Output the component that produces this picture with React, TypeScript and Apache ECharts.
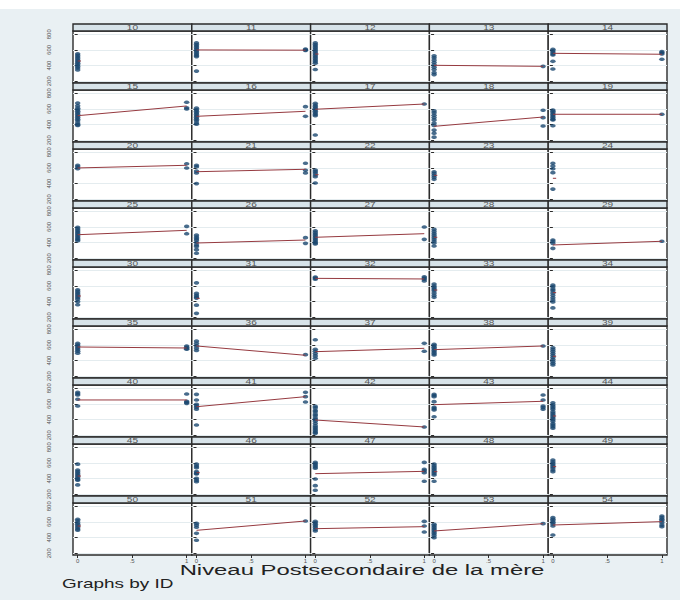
import React, { useEffect, useRef } from "react";
import * as echarts from "echarts";

// ---- Data (panel = ID) ----
const panelIds = [
  10, 11, 12, 13, 14,
  15, 16, 17, 18, 19,
  20, 21, 22, 23, 24,
  25, 26, 27, 28, 29,
  30, 31, 32, 33, 34,
  35, 36, 37, 38, 39,
  40, 41, 42, 43, 44,
  45, 46, 47, 48, 49,
  50, 51, 52, 53, 54,
];

// scores of children whose mother has no postsecondary education (x = 0)
const valuesAt0: number[][] = [
  [550, 530, 510, 490, 470, 450, 430, 410, 390, 370, 345],
  [690, 670, 650, 630, 610, 590, 570, 550, 530, 515, 330],
  [690, 670, 650, 630, 610, 590, 570, 550, 530, 510, 490, 470, 450, 430, 350],
  [525, 500, 470, 440, 410, 380, 350, 310, 285],
  [608, 590, 570, 550, 536, 455, 357],
  [675, 640, 610, 590, 570, 550, 530, 510, 490, 470, 450, 420, 400, 390],
  [610, 590, 570, 550, 530, 510, 490, 470, 450, 420, 405],
  [672, 650, 630, 610, 590, 570, 550, 530, 514, 267],
  [575, 550, 520, 490, 460, 420, 390, 330, 290, 240],
  [587, 570, 550, 530, 510, 490, 470, 459, 386],
  [634, 615, 591],
  [634, 615, 560, 535, 400],
  [574, 555, 535, 510, 488, 408],
  [552, 530, 505, 480, 455],
  [660, 625, 590, 540, 330],
  [596, 575, 555, 535, 515, 495, 475, 455, 440, 425],
  [495, 470, 450, 430, 400, 370, 350, 310, 265],
  [552, 530, 510, 490, 470, 450, 430, 410, 395, 382],
  [570, 545, 520, 495, 470, 445, 420, 395, 357],
  [433, 415, 391, 327],
  [550, 530, 510, 490, 470, 450, 430, 400, 360],
  [640, 505, 480, 460, 445, 355, 250],
  [715, 700, 685],
  [625, 600, 580, 560, 540, 510, 480, 455],
  [610, 590, 560, 540, 510, 480, 450, 420, 395, 320],
  [620, 600, 580, 560, 540, 520, 495],
  [650, 620, 590, 560, 530],
  [667, 545, 520, 490, 460, 430],
  [608, 590, 570, 550, 530, 510, 490, 472],
  [565, 540, 515, 490, 465, 440, 415, 390, 365, 344],
  [749, 730, 714, 660, 574],
  [723, 651, 596, 575, 555, 532, 331],
  [570, 550, 520, 500, 470, 450, 420, 400, 380, 350, 320, 300, 280, 260, 240, 225],
  [723, 708, 693, 629, 557, 540, 523, 437],
  [615, 590, 570, 550, 530, 500, 480, 460, 440, 420, 400, 380, 350, 330, 310, 290],
  [585, 510, 490, 470, 450, 430, 410, 390, 380, 320],
  [585, 560, 540, 490, 470, 460, 405, 380, 360],
  [608, 590, 570, 550, 532, 395, 310, 251],
  [587, 565, 545, 525, 505, 485, 465, 446, 366],
  [638, 615, 595, 575, 555, 535, 510, 489],
  [635, 615, 590, 570, 550, 530, 510, 495],
  [583, 560, 532, 455, 366],
  [608, 590, 570, 550, 530, 505, 485],
  [570, 550, 530, 510, 490, 470, 450, 425, 399],
  [655, 635, 615, 595, 575, 548, 433],
];

// scores of children whose mother has postsecondary education (x = 1)
const valuesAt1: number[][] = [
  [],
  [610, 600, 595],
  [],
  [391],
  [578, 565, 548, 481],
  [685, 616, 600],
  [629, 506],
  [663],
  [583, 489, 382],
  [532],
  [654, 600],
  [660, 570, 536],
  [],
  [],
  [],
  [608, 514],
  [463, 391],
  [600, 442],
  [],
  [417],
  [],
  [],
  [718, 700, 685, 663],
  [],
  [],
  [587, 570, 555, 545],
  [476],
  [621, 519],
  [587],
  [],
  [727, 634, 620, 608],
  [749, 693, 625],
  [306],
  [714, 651, 574, 555, 532],
  [],
  [],
  [],
  [608, 519, 500, 476, 366],
  [],
  [],
  [],
  [612],
  [608, 548, 472],
  [578],
  [676, 655, 635, 615, 590, 560, 540],
];

// linear fit values at x = 0 and x = 1 (null at 1 when no x = 1 observations)
const fitAt0: number[] = [
  459, 600, 548, 404, 557,
  514, 506, 596, 378, 532,
  600, 552, 514, 506, 468,
  501, 395, 468, 468, 370,
  472, 442, 697, 548, 515,
  574, 587, 514, 540, 455,
  651, 565, 395, 591, 446,
  433, 476, 463, 489, 553,
  548, 493, 514, 485, 561,
];
const fitAt1: (number | null)[] = [
  null, 597, null, 391, 545,
  638, 570, 663, 497, 532,
  634, 583, null, null, null,
  557, 433, 514, null, 417,
  null, null, 689, null, null,
  561, 468, 557, 587, null,
  651, 693, 306, 634, null,
  null, null, 493, null, null,
  null, 612, 540, 578, 604,
];

const xTickValues = [0, 0.5, 1];
const xTickLabels = ["0", ".5", "1"];
const yTickValues = [200, 400, 600, 800];
const xTitle = "Niveau Postsecondaire de la mère";
const noteText = "Graphs by ID";

// ---- Layout / style ----
const COLS = 5;
const LEFT = 73;
const COL_W = 118.8;
const TOP = 24;
const ROW_H = 59;
const HEAD_H = 7;
const BG = "#e9f0f3";
const STRIP = "#d7e3e9";
const BORDER = "#2b2b2b";
const MARKER = "#1a476f";
const FIT = "#963a40";
const STRETCH = 1.55;
const Y_MIN = 178;
const Y_MAX = 842;
const Y_LABEL_X = 49;

export default function App() {
  const ref = useRef<HTMLDivElement>(null);

  useEffect(() => {
    if (!ref.current) return;
    const chart = echarts.init(ref.current, undefined, { renderer: "svg" });
    const n = panelIds.length;
    const rows = Math.ceil(n / COLS);

    const grids: any[] = [];
    const xAxes: any[] = [];
    const yAxes: any[] = [];
    const series: any[] = [];
    const graphics: any[] = [
      { type: "rect", z: -10, shape: { x: 0, y: 9, width: 680, height: 591 }, style: { fill: BG } },
    ];

    panelIds.forEach((id, i) => {
      const r = Math.floor(i / COLS);
      const c = i % COLS;
      const left = LEFT + c * COL_W;
      const headTop = TOP + r * ROW_H;
      const isBottom = r === rows - 1;
      grids.push({
        left,
        top: headTop + HEAD_H,
        width: COL_W,
        height: ROW_H - HEAD_H,
        show: true,
        backgroundColor: "#ffffff",
        borderColor: BORDER,
        borderWidth: 1.4,
      });
      xAxes.push({
        type: "value",
        gridIndex: i,
        min: -0.043,
        max: 1.047,
        axisLine: { show: false },
        splitLine: { show: false },
        axisTick: {
          show: isBottom,
          customValues: xTickValues,
          length: 3,
          lineStyle: { color: BORDER },
        },
        axisLabel: {
          show: isBottom,
          customValues: xTickValues,
          formatter: (v: number) => xTickLabels[xTickValues.indexOf(v)] ?? String(v),
          fontSize: 6,
          color: "#555",
          margin: 3,
          fontFamily: "Liberation Sans",
        },
      });
      yAxes.push({
        type: "value",
        gridIndex: i,
        position: "left",
        min: Y_MIN,
        max: Y_MAX,
        axisLine: { show: false },
        splitLine: {
          show: true,
          lineStyle: { color: "#e4ecef", width: 1 },
        },
        axisTick: {
          show: true,
          customValues: yTickValues,
          length: 3,
          lineStyle: { color: BORDER },
        },
        axisLabel: { show: false },
      });

      const pts = valuesAt0[i].map((v) => [0, v]).concat(valuesAt1[i].map((v) => [1, v]));
      series.push({
        type: "scatter",
        xAxisIndex: i,
        yAxisIndex: i,
        data: pts,
        symbol: "circle",
        symbolSize: [5.5, 3.6],
        itemStyle: { color: MARKER },
        silent: true,
        z: 2,
      });
      const f1 = fitAt1[i];
      const lineData = f1 === null ? [[0, fitAt0[i]], [0.03, fitAt0[i]]] : [[0, fitAt0[i]], [1, f1]];
      series.push({
        type: "line",
        xAxisIndex: i,
        yAxisIndex: i,
        data: lineData,
        showSymbol: false,
        lineStyle: { color: FIT, width: 1 },
        silent: true,
        z: 3,
      });

      graphics.push({
        type: "rect",
        z: 5,
        shape: { x: left, y: headTop, width: COL_W, height: HEAD_H },
        style: { fill: STRIP, stroke: BORDER, lineWidth: 1.4 },
      });
      graphics.push({
        type: "text",
        z: 6,
        x: left + COL_W / 2,
        y: headTop + HEAD_H / 2 + 0.5,
        scaleX: STRETCH,
        style: {
          text: String(id),
          fontSize: 6.5,
          fontFamily: "Liberation Sans",
          fill: "#555",
          textAlign: "center",
          textVerticalAlign: "middle",
        },
      });
    });

    graphics.push({
      type: "text",
      z: 6,
      x: 362,
      y: 570,
      scaleX: STRETCH,
      style: {
        text: xTitle,
        fontSize: 15.4,
        fontFamily: "Liberation Sans",
        fill: "#222",
        textAlign: "center",
        textVerticalAlign: "middle",
      },
    });
    graphics.push({
      type: "text",
      z: 6,
      x: 62,
      y: 584,
      scaleX: STRETCH,
      style: {
        text: noteText,
        fontSize: 12.2,
        fontFamily: "Liberation Sans",
        fill: "#222",
        textAlign: "left",
        textVerticalAlign: "middle",
      },
    });

    chart.setOption({
      animation: false,
      backgroundColor: "#ffffff",
      grid: grids,
      xAxis: xAxes,
      yAxis: yAxes,
      series,
      graphic: graphics,
    });

    // y tick labels of the first column, placed through each panel's own y scale
    const yLabels: any[] = [];
    for (let r = 0; r < rows; r++) {
      const axisIndex = r * COLS;
      yTickValues.forEach((v) => {
        const py = chart.convertToPixel({ yAxisIndex: axisIndex }, v) as number;
        yLabels.push({
          type: "text",
          z: 6,
          x: Y_LABEL_X,
          y: py,
          rotation: Math.PI / 2,
          style: {
            text: String(v),
            fontSize: 6,
            fontFamily: "Liberation Sans",
            fill: "#555",
            textAlign: "center",
            textVerticalAlign: "middle",
          },
        });
      });
    }
    chart.setOption({ graphic: graphics.concat(yLabels) });

    return () => chart.dispose();
  }, []);

  return <div ref={ref} style={{ width: 680, height: 600, position: "absolute", left: 0, top: 0 }} />;
}
